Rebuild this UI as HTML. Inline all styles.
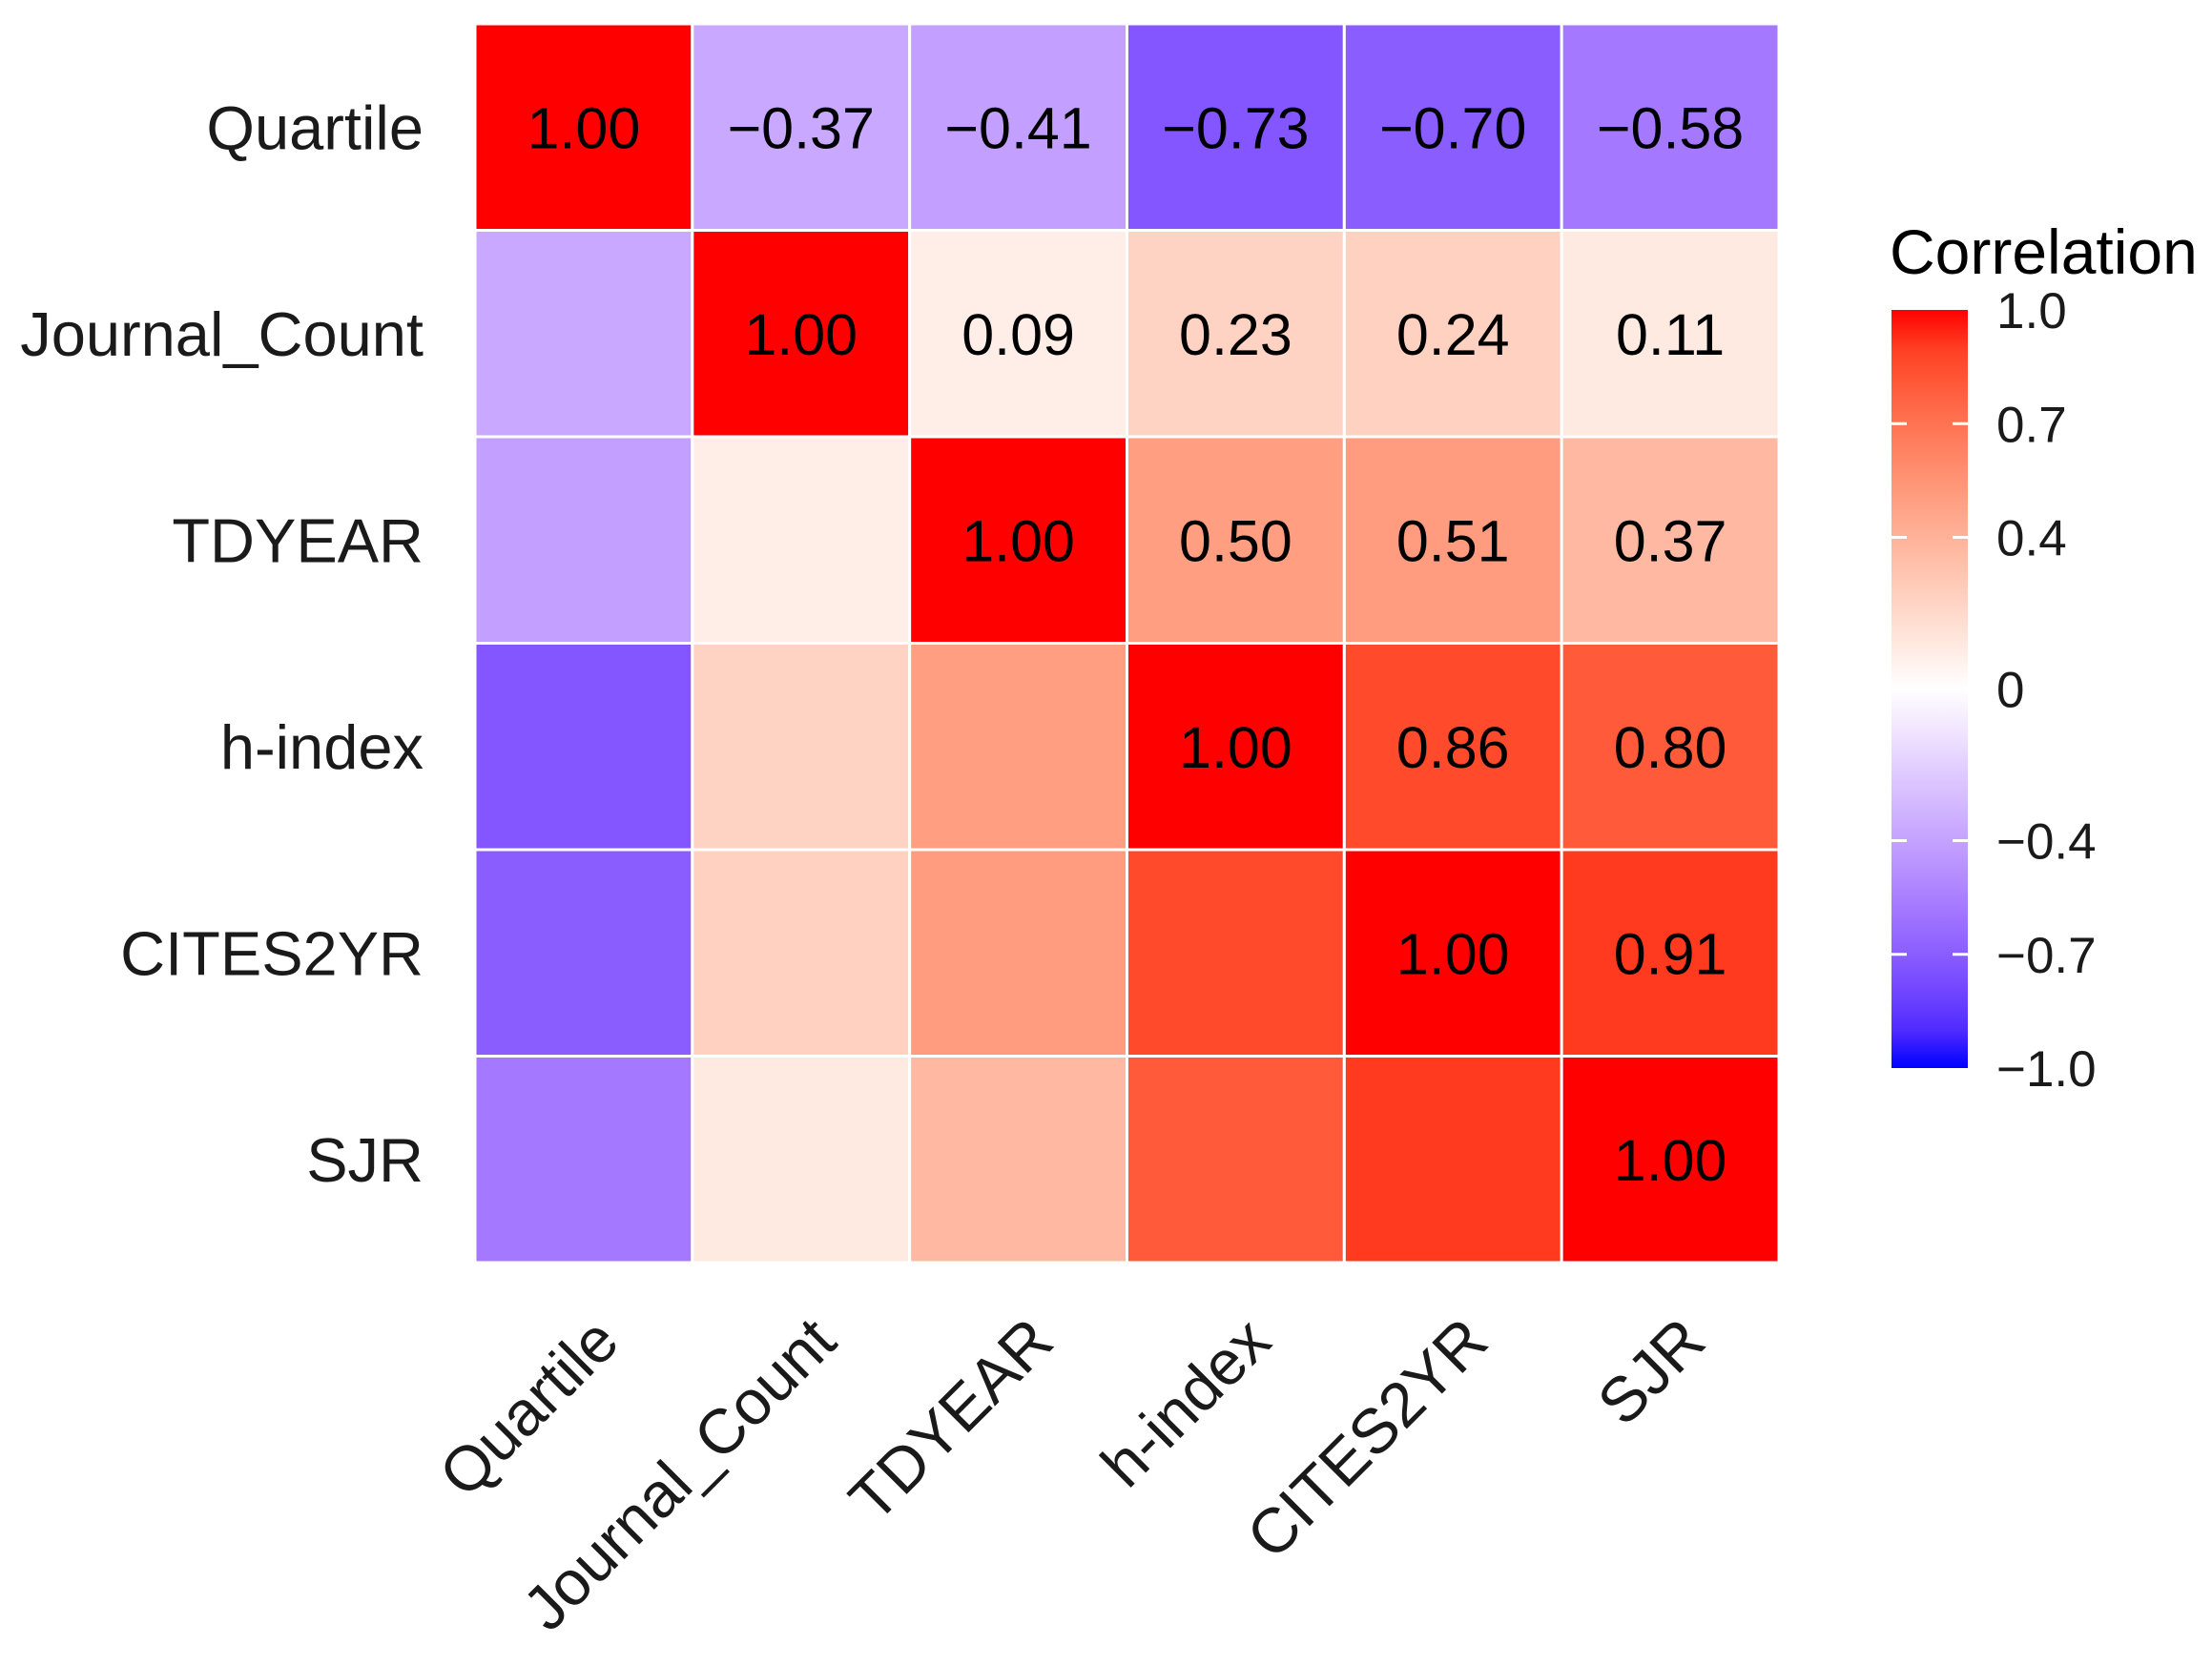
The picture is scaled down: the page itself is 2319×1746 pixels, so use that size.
<!DOCTYPE html>
<html><head><meta charset="utf-8"><style>
html,body{margin:0;padding:0;background:#fff;}
svg{display:block;font-family:"Liberation Sans",Arial,sans-serif;}
</style></head><body>
<svg id="chart" width="2319" height="1746" viewBox="0 0 2319 1746" xmlns="http://www.w3.org/2000/svg">
<defs>
<linearGradient id="cbgrad" x1="0" y1="1" x2="0" y2="0"></linearGradient>
</defs>
<g id="cells"></g>
<g id="ylabels"></g>
<g id="xlabels"></g>
<g id="legend"></g>
</svg>
<script>
const variables = ["Quartile","Journal_Count","TDYEAR","h-index","CITES2YR","SJR"];
const corrRow0 = [1.00,-0.37,-0.41,-0.73,-0.70,-0.58];
const corrRow1 = [-0.37,1.00,0.09,0.23,0.24,0.11];
const corrRow2 = [-0.41,0.09,1.00,0.50,0.51,0.37];
const corrRow3 = [-0.73,0.23,0.50,1.00,0.86,0.80];
const corrRow4 = [-0.70,0.24,0.51,0.86,1.00,0.91];
const corrRow5 = [-0.58,0.11,0.37,0.80,0.91,1.00];
const legendTicks = [1.0,0.7,0.4,0,-0.4,-0.7,-1.0];
const legendTickLabels = ["1.0","0.7","0.4","0","\u22120.4","\u22120.7","\u22121.0"];

const matrix=[corrRow0,corrRow1,corrRow2,corrRow3,corrRow4,corrRow5];
const NS="http://www.w3.org/2000/svg";
const gx0=498,gx1=1865,gy0=25,gy1=1324;
const n=variables.length;
const cw=(gx1-gx0)/n,ch=(gy1-gy0)/n;
function xPos(i){return gx0+i*cw;}
function yPos(i){return gy0+i*ch;}

function toLin(c){c/=255;return c<=0.04045?c/12.92:Math.pow((c+0.055)/1.055,2.4);}
function fromLin(c){c=c<=0.0031308?12.92*c:1.055*Math.pow(c,1/2.4)-0.055;return Math.max(0,Math.min(255,Math.round(c*255)));}
function rgb2lab(r,g,b){r=toLin(r);g=toLin(g);b=toLin(b);
 let X=(r*0.4124+g*0.3576+b*0.1805)/0.95047,Y=(r*0.2126+g*0.7152+b*0.0722),Z=(r*0.0193+g*0.1192+b*0.9505)/1.08883;
 const f=t=>t>0.008856?Math.cbrt(t):7.787*t+16/116;
 const fx=f(X),fy=f(Y),fz=f(Z);return [116*fy-16,500*(fx-fy),200*(fy-fz)];}
function lab2rgb(L,a,b){const fy=(L+16)/116,fx=fy+a/500,fz=fy-b/200;
 const fi=t=>t*t*t>0.008856?t*t*t:(t-16/116)/7.787;
 const X=fi(fx)*0.95047,Y=fi(fy),Z=fi(fz)*1.08883;
 const r=X*3.2406+Y*-1.5372+Z*-0.4986,g=X*-0.9689+Y*1.8758+Z*0.0415,bb=X*0.0557+Y*-0.2040+Z*1.0570;
 return `rgb(${fromLin(r)},${fromLin(g)},${fromLin(bb)})`;}
const LW=rgb2lab(255,255,255),LR=rgb2lab(255,0,0),LB=rgb2lab(0,0,255);
function color(v){const t=Math.min(1,Math.abs(v));const e=v>=0?LR:LB;
 return lab2rgb(LW[0]+(e[0]-LW[0])*t,LW[1]+(e[1]-LW[1])*t,LW[2]+(e[2]-LW[2])*t);}
function fmt(v){const s=Math.abs(v).toFixed(2);return v<0?"\u2212"+s:s;}

const cells=document.getElementById('cells');
for(let r=0;r<n;r++){for(let c=0;c<n;c++){
 const v=matrix[r][c];
 const rect=document.createElementNS(NS,'rect');
 
 
 rect.setAttribute('x',xPos(c));rect.setAttribute('y',yPos(r));
 rect.setAttribute('width',cw);rect.setAttribute('height',ch);
 rect.setAttribute('fill',color(v));rect.setAttribute('stroke','#fff');rect.setAttribute('stroke-width','3');
 cells.appendChild(rect);
 if(c>=r){
  const t=document.createElementNS(NS,'text');
  
  
  t.setAttribute('x',xPos(c)+cw/2);t.setAttribute('y',yPos(r)+ch/2+22);
  t.setAttribute('text-anchor','middle');t.setAttribute('font-size','61');t.setAttribute('fill','#000');
  t.textContent=fmt(v);cells.appendChild(t);
 }
}}
const yl=document.getElementById('ylabels');
variables.forEach((name,i)=>{
 const t=document.createElementNS(NS,'text');
 
 
 t.setAttribute('x',444);t.setAttribute('y',yPos(i)+ch/2+23);
 t.setAttribute('text-anchor','end');t.setAttribute('font-size','65');t.setAttribute('fill','#1a1a1a');
 t.textContent=name;yl.appendChild(t);
});
const xl=document.getElementById('xlabels');
variables.forEach((name,i)=>{
 const t=document.createElementNS(NS,'text');
 
 
 const x=xPos(i)+cw/2+40,y=1410;
 t.setAttribute('x',x);t.setAttribute('y',y);
 t.setAttribute('text-anchor','end');t.setAttribute('font-size','66');t.setAttribute('fill','#1a1a1a');
 t.setAttribute('transform',`rotate(-45 ${x} ${y})`);
 t.textContent=name;xl.appendChild(t);
});
const grad=document.getElementById('cbgrad');
for(let k=0;k<=20;k++){const v=-1+k*0.1;const s=document.createElementNS(NS,'stop');
 s.setAttribute('offset',(k/20));s.setAttribute('stop-color',color(v));grad.appendChild(s);}
const lg=document.getElementById('legend');
const lx0=1983,lx1=2063,ly0=325,ly1=1120;
function lY(v){return ly1-(v+1)/2*(ly1-ly0);}
const title=document.createElementNS(NS,'text');


title.setAttribute('x',1981);title.setAttribute('y',287);title.setAttribute('font-size','66');title.setAttribute('fill','#000');
title.textContent='Correlation';lg.appendChild(title);
const bar=document.createElementNS(NS,'rect');


bar.setAttribute('x',lx0);bar.setAttribute('y',ly0);bar.setAttribute('width',lx1-lx0);bar.setAttribute('height',ly1-ly0);
bar.setAttribute('fill','url(#cbgrad)');lg.appendChild(bar);
legendTicks.forEach((v,i)=>{
 const y=lY(v);
 if(Math.abs(v)<1&&v!==0){
  [[lx0,lx0+16],[lx1-16,lx1]].forEach(([a,b])=>{
   const l=document.createElementNS(NS,'line');
   
   
   l.setAttribute('x1',a);l.setAttribute('x2',b);l.setAttribute('y1',y);l.setAttribute('y2',y);
   l.setAttribute('stroke','#fff');l.setAttribute('stroke-width','3');lg.appendChild(l);});
 }
 const t=document.createElementNS(NS,'text');
 
 
 t.setAttribute('x',2093);t.setAttribute('y',y+19);t.setAttribute('font-size','53');t.setAttribute('fill','#1a1a1a');
 t.textContent=legendTickLabels[i];lg.appendChild(t);
});
</script>
</body></html>
